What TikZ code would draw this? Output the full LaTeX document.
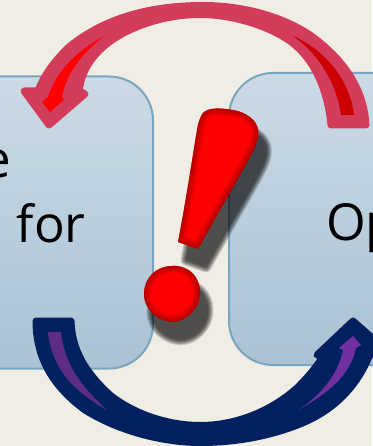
\documentclass[tikz,border=0pt]{standalone}
\usepackage{xcolor}
\usepackage{fontspec}
\setmainfont{Open Sans}
\newcommand{\FL}{\fontsize{51}{60}\selectfont}
\definecolor{paper}{HTML}{EFEDE4}
\definecolor{paneltop}{HTML}{CBDAE5}
\definecolor{panelbot}{HTML}{ABC2D4}
\definecolor{panelline}{HTML}{7BA5BF}
\definecolor{bandred}{HTML}{D33C5A}
\definecolor{banddark}{HTML}{CC0000}
\definecolor{bandblue}{HTML}{002060}
\definecolor{purpleA}{HTML}{5C2D82}
\definecolor{purpleB}{HTML}{7030A0}
\newcommand{\BangBody}{(203,113) .. controls (208,107) and (222,108) .. (233,110) .. controls (250,113) and (261,124) .. (258,137) .. controls (256,150) and (248,160) .. (198,249) -- (178,242) .. controls (186,200) and (192,160) .. (197,130) .. controls (198,123) and (200,117) .. (203,113) -- cycle}
\newcommand{\BangDot}{(172,266) .. controls (190,265) and (200,278) .. (200,292) .. controls (200,310) and (185,322) .. (172,322) .. controls (155,320) and (144,308) .. (144,294) .. controls (144,278) and (156,266) .. (172,266) -- cycle}

\begin{document}
\begin{tikzpicture}[x=1pt,y=-1pt]
\tikzstyle{panel}=[draw=panelline,line width=2pt,rounded corners=44pt,top color=paneltop,bottom color=panelbot]
\tikzstyle{texto}=[inner sep=0pt,black,font=\FL]
\tikzstyle{band}=[line width=7pt,line join=round]
\tikzstyle{blur}=[draw=black,fill=black,line join=round]

\useasboundingbox (0,0) rectangle (372,446);
\fill[paper] (0,0) rectangle (372,446);

\node[panel,minimum width=233pt,minimum height=292pt] (leftpanel) at (36.5,222.5) {};
\node[panel,minimum width=233pt,minimum height=292pt] (rightpanel) at (345.5,219) {};

\node[texto,anchor=base east] (lineA) at (11,178) {e};
\node[texto,anchor=base east] (lineB) at (86,242) {s\hspace{18pt}for};
\node[texto,anchor=base west] (lineC) at (326,240) {Op};

% shadow of the mark
\begin{scope}[shift={(8,18)}]
\foreach \w in {11,9.5,8,6.5,5,3.5,2,0.5} {
  \begin{scope}[transparency group,opacity=0.125]
  \draw[blur,line width=\w pt] \BangBody;
  \draw[blur,line width=\w pt] \BangDot;
  \end{scope}
}
\end{scope}

% mark
\fill[red] \BangBody;
\fill[red] \BangDot;
\begin{scope}
\clip \BangBody;
\foreach \w in {14,12,10,8,6,4,2} \draw[red!50!black,opacity=0.1,line width=\w pt] \BangBody;
\end{scope}
\begin{scope}
\clip \BangDot;
\foreach \w in {14,12,10,8,6,4,2} \draw[red!50!black,opacity=0.1,line width=\w pt] \BangDot;
\end{scope}

% upper arrow
\draw[band,draw=bandred,fill=bandred] (366,125) .. controls (364,90) and (345,60) .. (310,35) .. controls (280,15) and (240,5.5) .. (203,5.5) .. controls (150,5.5) and (105,18) .. (70,46) .. controls (55,60) and (44,75) .. (38,91) -- (24,91) -- (49,125) -- (85,94) -- (79,90.5) .. controls (82,73) and (88,62) .. (100,50) .. controls (120,30) and (160,14.5) .. (200,14.5) .. controls (235,14.5) and (275,28) .. (295,45) .. controls (318,65) and (328,95) .. (331,125) -- cycle;
\fill[banddark] (293,36) .. controls (325,50) and (350,80) .. (354,115) -- (341,115) .. controls (337,85) and (320,55) .. (293,36) -- cycle;
\fill[red] (104,36) .. controls (75,52) and (56,72) .. (48,97) -- (42,102) -- (50,112) -- (64,100) -- (62,97) .. controls (66,75) and (80,55) .. (104,36) -- cycle;

% lower arrow
\draw[band,draw=bandblue,fill=bandblue] (36,321) -- (71,321) .. controls (72,350) and (85,372) .. (110,395) .. controls (135,415) and (170,425.5) .. (200,425.5) .. controls (235,425.5) and (270,412) .. (297,388) .. controls (310,375) and (318,365) .. (323,356) -- (317,355) -- (353,321) -- (395,358) -- (370,354) .. controls (358,385) and (335,410) .. (300,424) .. controls (265,438) and (230,442.5) .. (200,442.5) .. controls (165,442.5) and (120,432) .. (85,410) .. controls (55,388) and (36,360) .. (36,321) -- cycle;
\fill[purpleA] (48,332) -- (61,332) .. controls (65,365) and (80,385) .. (107,410) .. controls (75,392) and (52,370) .. (48,332) -- cycle;
\fill[purpleB] (298,410) .. controls (320,396) and (338,375) .. (343,350) -- (339,348) -- (353,336) -- (361,345) -- (356,348) .. controls (350,375) and (330,392) .. (298,410) -- cycle;
\end{tikzpicture}
\end{document}
